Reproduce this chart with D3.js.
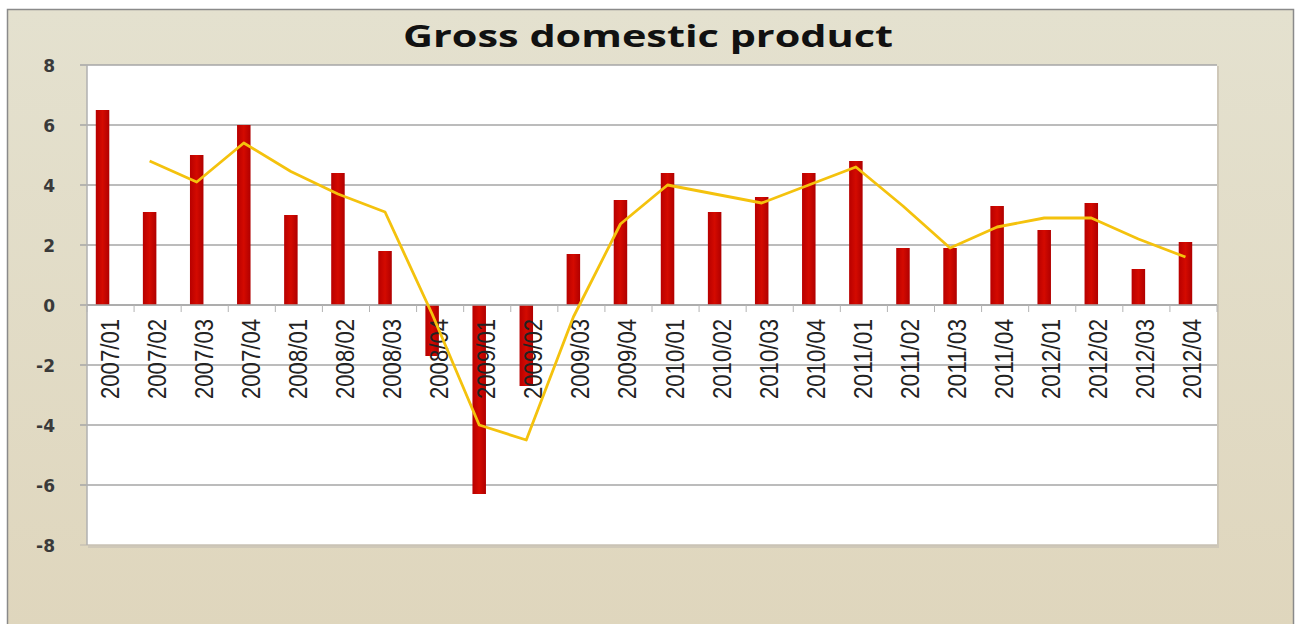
<!DOCTYPE html>
<html>
<head>
<meta charset="utf-8">
<script src="https://cdn.jsdelivr.net/npm/d3@7"></script>
<style>
html,body{margin:0;padding:0;background:#fff;}
svg{display:block;}
</style>
</head>
<body>
<svg id="chart" width="1295" height="624"></svg>
<script>
const title = "Gross domestic product";
const categories = ["2007/01","2007/02","2007/03","2007/04","2008/01","2008/02","2008/03","2008/04",
  "2009/01","2009/02","2009/03","2009/04","2010/01","2010/02","2010/03","2010/04",
  "2011/01","2011/02","2011/03","2011/04","2012/01","2012/02","2012/03","2012/04"];
const barValues = [6.5,3.1,5.0,6.0,3.0,4.4,1.8,-1.7,-6.3,-2.7,1.7,3.5,4.4,3.1,3.6,4.4,4.8,1.9,1.9,3.3,2.5,3.4,1.2,2.1];
const lineValues = [null,4.8,4.1,5.4,4.45,3.7,3.1,-0.3,-4.0,-4.5,-0.4,2.7,4.0,3.7,3.4,4.0,4.6,3.3,1.9,2.6,2.9,2.9,2.2,1.6];
const yTicks = [-8,-6,-4,-2,0,2,4,6,8];

const svg = d3.select("#chart");
const plot = {left:87, right:1217, top:65, bottom:545};

const defs = svg.append("defs");
const bg = defs.append("linearGradient").attr("id","bg").attr("x1",0).attr("y1",0).attr("x2",0).attr("y2",1);
bg.append("stop").attr("offset","0%").attr("stop-color","#e4e1cf");
bg.append("stop").attr("offset","100%").attr("stop-color","#dfd6bd");
const barG = defs.append("linearGradient").attr("id","barg").attr("x1",0).attr("y1",0).attr("x2",1).attr("y2",0);
barG.append("stop").attr("offset","0%").attr("stop-color","#b80000");
barG.append("stop").attr("offset","50%").attr("stop-color","#d40a00");
barG.append("stop").attr("offset","100%").attr("stop-color","#b00000");

// outer frame
svg.append("rect").attr("x",7.5).attr("y",9.5).attr("width",1286).attr("height",620)
  .attr("fill","url(#bg)").attr("stroke","#8a8a8a").attr("stroke-width",1.5);

// plot area shadow + background
svg.append("rect").attr("x",plot.left+1).attr("y",plot.top+1)
  .attr("width",plot.right-plot.left+1).attr("height",plot.bottom-plot.top+2)
  .attr("fill","#cfc8b8");
svg.append("rect").attr("x",plot.left).attr("y",plot.top)
  .attr("width",plot.right-plot.left).attr("height",plot.bottom-plot.top)
  .attr("fill","#ffffff");

const x = d3.scaleBand().domain(categories).range([plot.left, plot.right]).paddingInner(0).paddingOuter(0);
const y = d3.scaleLinear().domain([-8,8]).range([plot.bottom, plot.top]);
const barW = 13.5, barShift = -8;

// gridlines
svg.append("g").selectAll("line").data(yTicks).join("line")
  .attr("x1",plot.left-7).attr("x2",plot.right)
  .attr("y1",d=>y(d)).attr("y2",d=>y(d))
  .attr("stroke",d=>d===-8?"#c9c2b4":"#a6a6a6").attr("stroke-width",1.5);

// left plot border
svg.append("line").attr("x1",plot.left).attr("x2",plot.left).attr("y1",plot.top).attr("y2",plot.bottom)
  .attr("stroke","#b0b0b0").attr("stroke-width",1.5);

// y axis labels
const yAxis = d3.axisLeft(y).tickValues(yTicks).tickSize(0).tickPadding(0).tickFormat(d=>String(d));
const ya = svg.append("g").attr("transform",`translate(${plot.left-32},0)`).call(yAxis);
ya.select(".domain").remove();
ya.selectAll("text").attr("font-family","DejaVu Sans, sans-serif").attr("font-weight","bold")
  .attr("font-size",17).attr("fill","#3a3a3a").attr("dy","0.36em");

// bars
svg.append("g").selectAll("rect").data(categories).join("rect")
  .attr("x",(c)=>x(c)+x.bandwidth()/2+barShift-barW/2)
  .attr("width",barW)
  .attr("y",(c,i)=>y(Math.max(0,barValues[i])))
  .attr("height",(c,i)=>Math.abs(y(barValues[i])-y(0)))
  .attr("fill","url(#barg)");

// x axis line at zero with ticks
svg.append("line").attr("x1",plot.left).attr("x2",plot.right).attr("y1",y(0)).attr("y2",y(0))
  .attr("stroke","#a8a8a8").attr("stroke-width",1.5);
svg.append("g").selectAll("line").data(categories.concat(["end"])).join("line")
  .attr("x1",(c,i)=>plot.left + i*x.bandwidth()).attr("x2",(c,i)=>plot.left + i*x.bandwidth())
  .attr("y1",y(0)).attr("y2",y(0)+7)
  .attr("stroke","#b4b4b4").attr("stroke-width",1);

// category labels
svg.append("g").selectAll("text").data(categories).join("text")
  .attr("transform",c=>`translate(${x(c)+x.bandwidth()/2+8},${y(0)+14}) rotate(-90)`)
  .attr("text-anchor","end")
  .attr("font-family","Liberation Sans, Arial, sans-serif")
  .attr("font-size",25)
  .attr("textLength",80).attr("lengthAdjust","spacingAndGlyphs")
  .attr("fill","#222")
  .text(c=>c);

// line series
const line = d3.line()
  .defined(d=>d.v!==null)
  .x(d=>x(d.c)+x.bandwidth()/2+barShift)
  .y(d=>y(d.v));
svg.append("path").datum(categories.map((c,i)=>({c, v:lineValues[i]})))
  .attr("d",line).attr("fill","none").attr("stroke","#f4c20d").attr("stroke-width",2.8)
  .attr("stroke-linejoin","round");

// title
svg.append("text").attr("x",648).attr("y",47).attr("text-anchor","middle")
  .attr("font-family","Open Sans, sans-serif").attr("font-weight","bold").attr("font-size",30)
  .attr("textLength",490).attr("lengthAdjust","spacingAndGlyphs")
  .attr("fill","#111").text(title);
</script>
</body>
</html>
